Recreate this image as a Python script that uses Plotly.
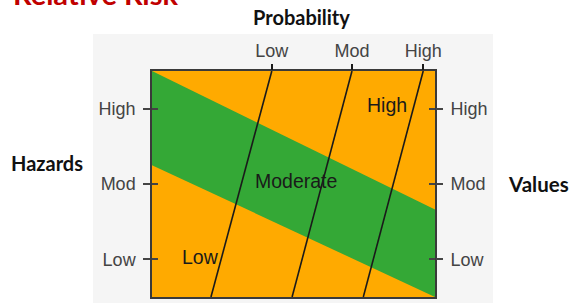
import plotly.graph_objects as go

# ---- data ----
levels = ["Low", "Mod", "High"]
hazard_ticks = [0.5, 1.5, 2.5]          # Hazards / Values tick positions
prob_top = [1.27, 2.12, 2.875]          # Probability lines at top edge
prob_bottom = [0.625, 1.485, 2.24]      # Probability lines at bottom edge
band_x = [0, 3, 3, 0]
band_y = [3, 1.16, 0, 1.75]             # moderate (green) band polygon
zone_labels = ["Low", "Moderate", "High"]
zone_x = [0.51, 1.53, 2.49]
zone_y = [0.53, 1.54, 2.55]

ORANGE = "#FFAA00"
GREEN = "#34A836"
LABEL_FONT = "Liberation Sans, Arial, sans-serif"
BOLD_FONT = "Lato, Carlito, sans-serif"

fig = go.Figure()

# green moderate band
fig.add_trace(go.Scatter(x=band_x, y=band_y, fill="toself", fillcolor=GREEN,
                         mode="none", hoverinfo="skip", showlegend=False))

# probability lines
for t, b in zip(prob_top, prob_bottom):
    fig.add_trace(go.Scatter(x=[b, t], y=[0, 3], mode="lines",
                             line=dict(color="#1a1a1a", width=1.6),
                             hoverinfo="skip", showlegend=False))

# zone labels
for lbl, zx, zy in zip(zone_labels, zone_x, zone_y):
    fig.add_annotation(x=zx, y=zy, text=lbl, showarrow=False,
                       xanchor="center", yanchor="middle",
                       font=dict(family=LABEL_FONT, size=19.5, color="#1a1a1a"))

tickfont = dict(family=LABEL_FONT, size=18, color="#444444")

fig.update_layout(
    width=571, height=303, autosize=False,
    margin=dict(l=152, r=136, t=71, b=6),
    paper_bgcolor="white",
    plot_bgcolor=ORANGE,
    xaxis=dict(range=[0, 3], showgrid=False, zeroline=False, showticklabels=False,
               ticks="", showline=True, mirror=True, linecolor="#3a3a3a", linewidth=1.5),
    xaxis2=dict(range=[0, 3], overlaying="x", side="top", anchor="y",
                tickvals=prob_top, ticktext=levels, ticks="outside", ticklen=6,
                tickcolor="#1a1a1a", tickwidth=1.5, tickfont=tickfont,
                showgrid=False, zeroline=False, showline=False),
    yaxis=dict(range=[0, 3], showgrid=False, zeroline=False,
               tickvals=hazard_ticks, ticktext=levels, ticks="outside", ticklen=7,
               tickcolor="#444444", tickwidth=1.5, tickfont=tickfont,
               ticklabelstandoff=4,
               showline=True, mirror=True, linecolor="#3a3a3a", linewidth=1.5),
    yaxis2=dict(range=[0, 3], overlaying="y", side="right", anchor="x",
                tickvals=hazard_ticks, ticktext=levels, ticks="outside", ticklen=7,
                tickcolor="#444444", tickwidth=1.5, tickfont=tickfont,
                ticklabelstandoff=4,
                showgrid=False, zeroline=False, showline=False),
    yaxis3=dict(range=[0, 3], overlaying="y", side="left", anchor="x",
                tickvals=hazard_ticks, showticklabels=False, ticks="inside", ticklen=6,
                tickcolor="#444444", tickwidth=1.5,
                showgrid=False, zeroline=False, showline=False),
    yaxis4=dict(range=[0, 3], overlaying="y", side="right", anchor="x",
                tickvals=hazard_ticks, showticklabels=False, ticks="inside", ticklen=6,
                tickcolor="#444444", tickwidth=1.5,
                showgrid=False, zeroline=False, showline=False),
)

# invisible traces to activate the extra axes
for xa, ya in [("x2", "y"), ("x", "y2"), ("x", "y3"), ("x", "y4")]:
    fig.add_trace(go.Scatter(x=[0], y=[0], xaxis=xa, yaxis=ya, mode="markers",
                             marker=dict(opacity=0), hoverinfo="skip", showlegend=False))

# light gray panel behind chart, then orange plot area on top of it
fig.add_shape(type="rect", xref="paper", yref="paper",
              x0=-0.2085, x1=1.205, y0=-0.2, y1=1.164,
              fillcolor="#F5F5F5", line=dict(width=0), layer="below")
fig.add_shape(type="rect", xref="x domain", yref="y domain",
              x0=0, x1=1, y0=0, y1=1,
              fillcolor=ORANGE, line=dict(width=0), layer="below")

# titles
fig.add_annotation(xref="paper", yref="paper", x=0.53, y=1.239, text="<b>Probability</b>",
                   xanchor="center", yanchor="middle",
                   showarrow=False, font=dict(family=BOLD_FONT, size=20, color="#111111"))
fig.add_annotation(xref="paper", yref="paper", x=-0.371, y=0.593, text="<b>Hazards</b>",
                   xanchor="center", yanchor="middle",
                   showarrow=False, font=dict(family=BOLD_FONT, size=20, color="#111111"))
fig.add_annotation(xref="paper", yref="paper", x=1.365, y=0.5, text="<b>Values</b>",
                   xanchor="center", yanchor="middle",
                   showarrow=False, font=dict(family=BOLD_FONT, size=20.5, color="#111111"))
fig.add_annotation(xref="paper", yref="paper", x=-0.201, y=1.257,
                   xanchor="center", yanchor="bottom",
                   text="<b>Relative Risk</b>", showarrow=False,
                   font=dict(family=BOLD_FONT, size=29, color="#C00000"))

fig.write_html("out.html", config={"displayModeBar": False},
               post_script="document.body.style.margin='0';")
